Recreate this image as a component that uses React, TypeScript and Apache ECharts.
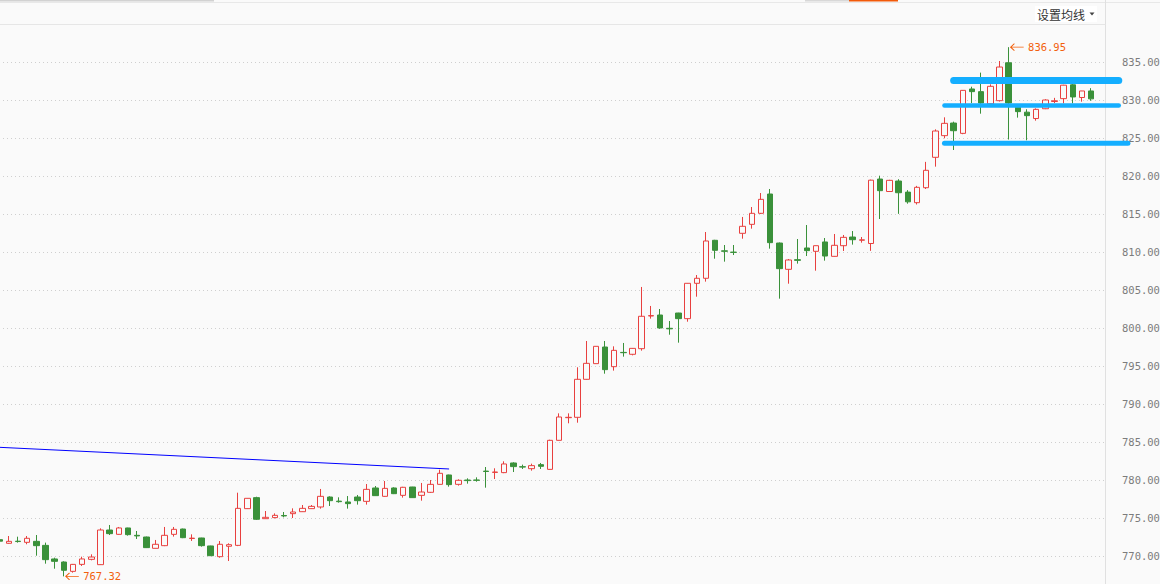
import React, { useEffect, useRef } from 'react';
import * as echarts from 'echarts';

// ---- data (one entry per trading bar) ----
const opens = [
  772.15, 771.67, 771.95, 771.80, 771.93, 771.40, 769.61, 769.21, 767.98, 768.90,
  769.56, 768.86, 773.42, 772.85, 773.69, 772.72, 772.50, 771.01, 771.36, 772.85,
  773.55, 772.30, 772.37, 771.32, 769.91, 771.28, 771.40, 776.23, 777.68, 774.91,
  775.05, 775.33, 775.57, 775.83, 776.23, 776.45, 777.76, 777.22, 777.11, 777.76,
  777.19, 778.95, 777.85, 778.95, 777.98, 779.08, 777.98, 778.38, 779.43, 780.66,
  779.43, 780.00, 780.00, 781.17, 781.00, 780.97, 782.24, 781.75, 781.49, 782.02,
  781.40, 785.22, 788.20, 788.25, 793.25, 795.31, 797.50, 794.91, 796.79, 796.54,
  797.28, 801.58, 801.71, 799.96, 801.97, 801.23, 805.88, 806.54, 811.54, 810.15,
  809.98, 812.46, 813.64, 815.09, 817.63, 811.18, 807.72, 808.99, 810.53, 810.09,
  811.32, 809.43, 810.83, 811.97, 811.55, 811.12, 819.60, 817.96, 819.34, 817.88,
  816.49, 818.46, 822.46, 825.31, 826.97, 825.61, 831.45, 831.10, 829.50, 829.91,
  834.90, 829.05, 828.40, 827.56, 828.85, 829.80, 830.18, 832.00, 830.33, 831.19,
];
const closes = [
  771.95, 771.93, 771.90, 772.33, 771.36, 769.52, 769.30, 768.12, 768.90, 769.61,
  769.87, 773.42, 772.94, 773.69, 772.81, 772.64, 771.10, 771.54, 772.72, 773.51,
  772.41, 772.35, 771.36, 770.04, 771.54, 771.49, 776.27, 777.59, 774.83, 775.09,
  775.35, 775.27, 775.79, 776.27, 776.53, 777.85, 777.28, 777.15, 776.89, 777.28,
  778.77, 777.94, 778.90, 778.20, 779.04, 777.68, 778.42, 779.43, 780.88, 779.39,
  779.96, 779.92, 779.96, 781.12, 781.05, 782.11, 781.76, 781.70, 781.89, 781.80,
  785.22, 788.29, 788.25, 793.25, 795.35, 797.59, 794.52, 797.06, 796.75, 797.32,
  801.54, 801.63, 800.00, 799.89, 801.23, 805.88, 806.54, 811.45, 810.22, 810.10,
  809.95, 813.38, 815.09, 816.93, 811.23, 807.81, 808.95, 808.90, 810.18, 810.83,
  809.47, 810.88, 811.93, 811.62, 811.60, 819.45, 818.07, 819.43, 817.80, 816.60,
  818.51, 820.75, 825.92, 826.93, 825.96, 831.27, 831.10, 829.60, 831.80, 834.34,
  829.60, 828.47, 827.94, 828.77, 830.00, 829.90, 831.95, 830.40, 831.19, 830.15,
];
const lows = [
  771.90, 771.62, 771.76, 771.54, 770.04, 768.99, 768.33, 767.32, 767.81, 768.69,
  769.43, 768.82, 772.76, 772.80, 772.68, 772.24, 771.05, 771.00, 771.30, 772.55,
  772.35, 771.98, 771.23, 770.00, 769.78, 769.34, 771.30, 776.20, 774.74, 774.90,
  774.95, 775.09, 775.00, 775.80, 776.20, 776.23, 776.58, 777.02, 776.23, 776.76,
  776.76, 777.90, 777.80, 778.15, 777.68, 777.65, 777.28, 778.30, 779.40, 779.12,
  779.26, 779.52, 779.78, 778.99, 780.13, 780.90, 781.05, 781.45, 781.23, 781.45,
  781.36, 785.20, 787.46, 787.54, 793.20, 795.30, 793.99, 794.39, 796.23, 796.40,
  797.02, 801.23, 799.90, 799.12, 798.07, 800.83, 804.12, 806.10, 809.12, 808.73,
  809.60, 811.75, 813.07, 815.00, 810.44, 803.86, 805.83, 808.47, 809.47, 807.54,
  808.86, 809.40, 810.13, 810.97, 811.23, 810.15, 814.34, 817.90, 815.02, 816.36,
  816.25, 818.29, 821.23, 824.96, 823.42, 825.50, 829.60, 828.20, 829.40, 829.80,
  824.80, 827.68, 824.70, 827.28, 828.80, 829.60, 829.56, 829.56, 829.78, 829.90,
];
const highs = [
  772.20, 772.63, 772.54, 772.63, 772.76, 771.76, 769.78, 769.30, 768.95, 769.91,
  770.22, 773.64, 774.08, 773.82, 773.72, 773.29, 772.55, 772.11, 773.82, 773.82,
  773.60, 772.85, 772.40, 771.35, 771.97, 771.67, 778.33, 777.60, 777.80, 775.92,
  775.61, 775.79, 776.27, 776.71, 776.71, 778.82, 777.85, 777.72, 777.89, 778.03,
  779.47, 779.21, 779.87, 779.04, 779.10, 779.10, 779.61, 780.00, 781.36, 780.70,
  780.09, 780.22, 780.35, 781.71, 781.54, 782.46, 782.33, 782.02, 782.15, 782.24,
  785.30, 788.77, 788.77, 794.83, 798.29, 797.60, 798.29, 797.59, 798.03, 797.35,
  805.40, 802.90, 802.50, 800.92, 802.00, 805.90, 806.97, 812.63, 811.60, 810.92,
  810.92, 814.61, 815.92, 817.76, 818.29, 811.25, 809.08, 811.71, 813.55, 810.85,
  811.84, 812.37, 812.24, 812.76, 811.97, 819.52, 820.04, 819.50, 819.58, 818.14,
  818.70, 821.86, 826.14, 827.72, 827.15, 831.30, 831.75, 833.60, 832.06, 835.13,
  836.95, 829.10, 828.78, 828.90, 830.10, 830.28, 832.00, 832.10, 831.20, 831.56,
];
// one empty slot after the last bar
const categories = Array.from({ length: opens.length + 1 }, (_, i) => String(i + 1));

// y axis
const yMin = 765;
const yMax = 840;
const yInterval = 5;

// thin blue trend line (bar index, price)
const trendStart = [0, 784.3];
const trendEnd = [49, 781.45];

// thick horizontal levels (price) and their extent in bar index units
const levelValues = [832.55, 829.28, 824.32];
const levelFrom = [103.5, 103.4, 103.2];
const levelTo = [122.1, 122.2, 122.7];
const levelWidths = [7, 4.5, 5];

const RED = '#e8403f';
const GREEN = '#3a913a';
const ORANGE = '#f2600c';
const BLUE = '#14aeff';
const MONO = '"DejaVu Sans Mono", "Liberation Mono", monospace';

export default function App() {
  const ref = useRef<HTMLDivElement>(null);

  useEffect(() => {
    document.body.style.margin = '0';
    document.body.style.overflow = 'hidden';
    const chart = echarts.init(ref.current!, undefined, { renderer: 'svg' });

    const candleData = opens.map((o, i) => [o, closes[i], lows[i], highs[i]]);
    let maxIdx = 0;
    let minIdx = 0;
    highs.forEach((h, i) => { if (h > highs[maxIdx]) maxIdx = i; });
    lows.forEach((l, i) => { if (l < lows[minIdx]) minIdx = i; });

    const levelData = levelValues.map((v, i) => [levelFrom[i], levelTo[i], v, levelWidths[i]]);

    chart.setOption({
      animation: false,
      backgroundColor: '#fafafa',
      grid: { left: -5, right: 55, top: 24, bottom: -10, containLabel: false, outerBoundsMode: 'none' },
      xAxis: {
        type: 'category',
        data: categories,
        position: 'top',
        boundaryGap: true,
        min: 0,
        max: categories.length - 1,
        axisLine: { show: true, lineStyle: { color: '#e6e6e6', width: 1 } },
        axisTick: { show: false },
        axisLabel: { show: false },
        splitLine: { show: false },
      },
      yAxis: {
        type: 'value',
        position: 'right',
        min: yMin,
        max: yMax,
        interval: yInterval,
        scale: true,
        axisLine: { show: true, lineStyle: { color: '#e0e0e0', width: 1 } },
        axisTick: { show: false },
        axisLabel: {
          show: true,
          margin: 17,
          color: '#7c7c7c',
          fontFamily: MONO,
          fontSize: 10.5,
          showMaxLabel: false,
          showMinLabel: false,
          formatter: (v: number) => v.toFixed(2),
        },
        splitLine: { show: true, lineStyle: { color: '#cfcfcf', width: 1, type: [1, 3] } },
      },
      series: [
        {
          type: 'candlestick',
          data: candleData,
          barWidth: 6,
          itemStyle: {
            color: '#fafafa',
            color0: GREEN,
            borderColor: RED,
            borderColor0: GREEN,
            borderWidth: 1,
          },
          markLine: {
            silent: true,
            symbol: ['none', 'none'],
            label: { show: false },
            lineStyle: { color: '#0000ff', width: 1, type: 'solid' },
            emphasis: { disabled: true },
            data: [[{ coord: trendStart }, { coord: trendEnd }]],
          },
          markPoint: {
            silent: true,
            symbol: 'path://M0,4L14,4M4,0L0,4L4,8',
            symbolSize: [13, 7],
            symbolOffset: [8.5, 0],
            itemStyle: { color: 'none', borderColor: ORANGE, borderWidth: 1 },
            label: {
              show: true,
              position: 'right',
              distance: 1,
              color: ORANGE,
              fontFamily: MONO,
              fontSize: 10.5,
              formatter: (p: any) => Number(p.value).toFixed(2),
            },
            data: [
              { coord: [maxIdx, highs[maxIdx]], value: highs[maxIdx] },
              { coord: [minIdx, lows[minIdx]], value: lows[minIdx] },
            ],
          },
        },
        {
          type: 'custom',
          z: 5,
          silent: true,
          clip: false,
          encode: { x: [0, 1], y: 2 },
          data: levelData,
          renderItem: (params: any, api: any) => {
            const v = api.value(2);
            const p1 = api.coord([api.value(0), v]);
            const p2 = api.coord([api.value(1), v]);
            return {
              type: 'line',
              shape: { x1: p1[0], y1: p1[1], x2: p2[0], y2: p2[1] },
              style: { stroke: BLUE, lineWidth: api.value(3), lineCap: 'round' },
            };
          },
        },
      ],
      graphic: [
        { type: 'rect', shape: { x: 0, y: 0, width: 214, height: 1.5 }, style: { fill: '#d2d2d2' }, silent: true },
        { type: 'rect', shape: { x: 805, y: 0, width: 44, height: 1.5 }, style: { fill: '#d8d8d8' }, silent: true },
        { type: 'rect', shape: { x: 849, y: 0, width: 49, height: 1.5 }, style: { fill: '#f25a0a' }, silent: true },
        { type: 'line', shape: { x1: 0, y1: 2.5, x2: 1160, y2: 2.5 }, style: { stroke: '#e8e8e8', lineWidth: 1 }, silent: true },
        { type: 'line', shape: { x1: 1105.5, y1: 0, x2: 1105.5, y2: 24 }, style: { stroke: '#e0e0e0', lineWidth: 1 }, silent: true },
        { type: 'rect', shape: { x: 1035, y: 6, width: 62, height: 16 }, style: { fill: '#ffffff' }, silent: true },
        {
          type: 'text',
          x: 1037,
          y: 14,
          silent: true,
          style: {
            text: '设置均线',
            fill: '#333333',
            font: '12px "Noto Sans CJK SC"',
            verticalAlign: 'middle',
            align: 'left',
          },
        },
        {
          type: 'polygon',
          silent: true,
          shape: { points: [[1089.5, 12.5], [1094.5, 12.5], [1092, 15.5]] },
          style: { fill: '#444444' },
        },
      ],
    });

    return () => chart.dispose();
  }, []);

  return (
    <div
      ref={ref}
      style={{ position: 'fixed', left: 0, top: 0, width: 1160, height: 584, background: '#fafafa' }}
    />
  );
}
